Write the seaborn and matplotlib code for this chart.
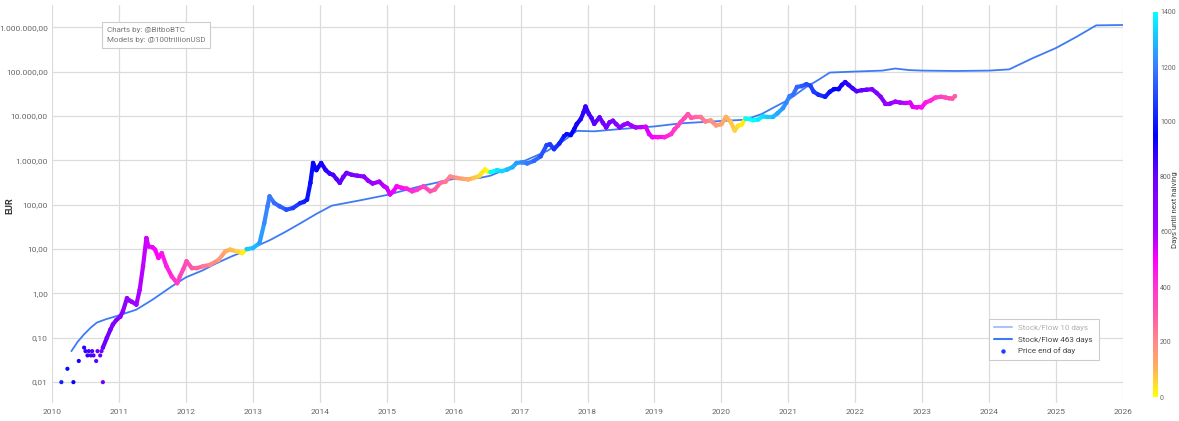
import numpy as np
import pandas as pd
import matplotlib
matplotlib.use("Agg")
import matplotlib.pyplot as plt
import seaborn as sns
from matplotlib.colors import LinearSegmentedColormap, Normalize
from matplotlib.collections import LineCollection
from matplotlib.ticker import FuncFormatter, FixedLocator
from matplotlib.lines import Line2D
import matplotlib.cm as cm

# ---------------- data ----------------
halving_dates = [2012.91, 2016.52, 2020.36, 2024.30]

early_t = [2010.14, 2010.23, 2010.32, 2010.40, 2010.48, 2010.50, 2010.53, 2010.55,
           2010.58, 2010.60, 2010.62, 2010.66, 2010.68, 2010.72, 2010.74, 2010.76]
early_p = [0.01, 0.02, 0.01, 0.03, 0.06, 0.05, 0.04, 0.05,
           0.04, 0.05, 0.04, 0.03, 0.05, 0.04, 0.05, 0.01]

price_t = [2010.76, 2010.82, 2010.87, 2010.91, 2010.96, 2011.02, 2011.06, 2011.12, 2011.15,
           2011.19, 2011.26, 2011.31, 2011.36, 2011.41, 2011.44, 2011.50, 2011.54, 2011.59,
           2011.64, 2011.71, 2011.79, 2011.87, 2011.91, 2011.96, 2012.01, 2012.09, 2012.16,
           2012.26, 2012.36, 2012.49, 2012.59, 2012.66, 2012.76, 2012.84, 2012.91, 2013.00,
           2013.10, 2013.17, 2013.22, 2013.25, 2013.32, 2013.40, 2013.50, 2013.60, 2013.71,
           2013.76, 2013.81, 2013.86, 2013.90, 2013.95, 2014.02, 2014.09, 2014.15, 2014.20,
           2014.25, 2014.30, 2014.35, 2014.40, 2014.48, 2014.56, 2014.66, 2014.72, 2014.79,
           2014.89, 2014.96, 2015.00, 2015.05, 2015.10, 2015.15, 2015.22, 2015.30, 2015.38,
           2015.45, 2015.55, 2015.65, 2015.72, 2015.80, 2015.88, 2015.95, 2016.05, 2016.15,
           2016.22, 2016.30, 2016.38, 2016.42, 2016.47, 2016.51, 2016.55, 2016.65, 2016.72,
           2016.80, 2016.88, 2016.94, 2017.02, 2017.10, 2017.20, 2017.30, 2017.39, 2017.44,
           2017.50, 2017.58, 2017.65, 2017.69, 2017.75, 2017.80, 2017.84, 2017.90, 2017.94,
           2017.97, 2018.02, 2018.06, 2018.10, 2018.18, 2018.23, 2018.28, 2018.33, 2018.38,
           2018.43, 2018.48, 2018.54, 2018.60, 2018.66, 2018.72, 2018.80, 2018.87, 2018.92,
           2018.97, 2019.05, 2019.15, 2019.25, 2019.30, 2019.35, 2019.39, 2019.45, 2019.50,
           2019.55, 2019.62, 2019.69, 2019.76, 2019.84, 2019.92, 2020.00, 2020.07, 2020.14,
           2020.20, 2020.25, 2020.30, 2020.36, 2020.42, 2020.47, 2020.55, 2020.62, 2020.68,
           2020.77, 2020.84, 2020.92, 2020.97, 2021.02, 2021.07, 2021.13, 2021.20, 2021.27,
           2021.33, 2021.38, 2021.45, 2021.55, 2021.62, 2021.68, 2021.75, 2021.80, 2021.85,
           2021.90, 2021.96, 2022.02, 2022.10, 2022.17, 2022.25, 2022.32, 2022.38, 2022.45,
           2022.52, 2022.60, 2022.67, 2022.75, 2022.82, 2022.86, 2022.92, 2022.99, 2023.05,
           2023.12, 2023.20, 2023.28, 2023.35, 2023.40, 2023.45, 2023.49]
price_v = [0.06, 0.10, 0.15, 0.20, 0.25, 0.30, 0.40, 0.78, 0.70,
           0.65, 0.56, 1.2, 4.1, 17.7, 11.5, 11.0, 9.7, 6.3,
           8.1, 4.1, 2.4, 1.7, 2.4, 3.5, 5.3, 3.7, 3.7,
           4.1, 4.4, 5.7, 8.9, 9.7, 8.9, 8.1, 10.0, 10.5,
           13.6, 38, 92, 154, 109, 92, 77, 84, 109,
           115, 130, 310, 870, 600, 870, 600, 500, 470,
           380, 310, 420, 520, 470, 450, 430, 350, 300,
           330, 260, 240, 170, 200, 260, 240, 230, 200,
           215, 260, 200, 220, 310, 330, 430, 400, 380,
           370, 400, 440, 520, 620, 560, 540, 600, 570,
           620, 700, 870, 900, 850, 970, 1230, 2200, 2300,
           1780, 2400, 3500, 3900, 3700, 5000, 6600, 8500, 12000,
           16300, 11100, 9000, 6600, 9300, 7000, 5500, 7200, 7800,
           6500, 5500, 6300, 6800, 6000, 5500, 5600, 5700, 3900,
           3300, 3300, 3300, 3900, 5000, 6000, 7200, 9000, 11000,
           9000, 9500, 9500, 7500, 7900, 6100, 6500, 9500, 7300,
           4700, 6000, 6300, 8700, 8500, 8000, 8300, 9800, 9500,
           9500, 11500, 15000, 20000, 28000, 30000, 45000, 47000, 52000,
           48000, 35000, 30000, 27000, 35000, 40000, 40000, 50000, 58000,
           50000, 42000, 36000, 38000, 39000, 40000, 33000, 27000, 19000,
           19000, 21000, 20000, 19500, 20000, 16000, 15500, 15500, 20000,
           22000, 26000, 27000, 26000, 25000, 24500, 28000]

s2f_t = [2010.29, 2010.38, 2010.48, 2010.58, 2010.67, 2010.80, 2010.97, 2011.26, 2011.50,
         2011.79, 2012.00, 2012.25, 2012.46, 2012.70, 2012.96, 2013.26, 2013.50, 2013.71,
         2013.95, 2014.18, 2014.60, 2015.00, 2015.50, 2016.00, 2016.39, 2016.55, 2016.75,
         2017.00, 2017.40, 2017.65, 2017.84, 2018.10, 2018.49, 2019.00, 2019.39, 2020.00,
         2020.35, 2020.60, 2020.80, 2021.00, 2021.27, 2021.45, 2021.62, 2022.00, 2022.40,
         2022.60, 2022.80, 2023.00, 2023.50, 2024.00, 2024.30, 2024.65, 2025.00, 2025.30,
         2025.60, 2026.00]
s2f_v = [0.05, 0.08, 0.12, 0.17, 0.22, 0.26, 0.31, 0.43, 0.72,
         1.44, 2.3, 3.3, 4.8, 7.0, 10.0, 16, 25, 38,
         62, 95, 125, 165, 260, 380, 400, 450, 600,
         890, 1630, 2800, 4600, 4500, 5060, 5800, 6800, 7700,
         8200, 11000, 16000, 23000, 45000, 65000, 95000, 100000, 105000,
         117000, 108000, 105000, 103000, 105000, 112000, 200000, 340000, 600000,
         1100000, 1120000]

y_ticks = [0.01, 0.1, 1, 10, 100, 1000, 10000, 100000, 1000000]
x_ticks = list(range(2010, 2027))
cbar_ticks = [0, 200, 400, 600, 800, 1000, 1200, 1400]


def days_until_halving(t):
    for h in halving_dates:
        if t < h:
            return (h - t) * 365.25
    return 0.0


# ---------------- styling ----------------
sns.set_theme(style="whitegrid")
plt.rcParams["font.family"] = ["Roboto", "DejaVu Sans"]
NARROW = ["Liberation Sans Narrow", "DejaVu Sans Condensed", "Roboto", "DejaVu Sans"]

cmap = LinearSegmentedColormap.from_list(
    "halving",
    [(0.0, "#ffff00"), (100 / 1400, "#ffb35a"), (200 / 1400, "#ff8a8a"),
     (300 / 1400, "#ff5aa8"), (400 / 1400, "#ff35d0"), (500 / 1400, "#ff00ff"),
     (600 / 1400, "#a500ff"), (800 / 1400, "#6a00ff"), (950 / 1400, "#0000ff"),
     (1200 / 1400, "#3a7aff"), (1.0, "#00ffff")])
norm = Normalize(0, 1400)

fig = plt.figure(figsize=(11.79, 4.21), dpi=100)
ax = fig.add_axes([52 / 1179, 18 / 421, 1071 / 1179, 398 / 421])

# S2F 463 days model line
df_s2f = pd.DataFrame({"t": s2f_t, "v": s2f_v})
sns.lineplot(data=df_s2f, x="t", y="v", ax=ax, color="#3f7af5", linewidth=1.3,
             zorder=3, legend=False)

# price, colored by days until next halving
df_p = pd.DataFrame({"t": price_t, "v": price_v})
df_p["days"] = [days_until_halving(t) for t in price_t]
df_e = pd.DataFrame({"t": early_t, "v": early_p})
df_e["days"] = [days_until_halving(t) for t in early_t]

pts = np.column_stack([df_p["t"].values, df_p["v"].values])
segs = np.stack([pts[:-1], pts[1:]], axis=1)
lc = LineCollection(segs, cmap=cmap, norm=norm, linewidth=3.0, zorder=4,
                    capstyle="round", joinstyle="round")
lc.set_array(df_p["days"].values[:-1])
ax.add_collection(lc)

sns.scatterplot(data=df_p, x="t", y="v", hue="days", palette=cmap, hue_norm=norm,
                ax=ax, s=10, linewidth=0, legend=False, zorder=5)
sns.scatterplot(data=df_e, x="t", y="v", hue="days", palette=cmap, hue_norm=norm,
                ax=ax, s=9, linewidth=0, legend=False, zorder=5)

ax.set_yscale("log")
ax.set_xlim(2010, 2026)
ax.set_ylim(10 ** -2.47, 10 ** 6.5)
ax.xaxis.set_major_locator(FixedLocator(x_ticks))
ax.yaxis.set_major_locator(FixedLocator(y_ticks))
ax.yaxis.set_minor_locator(FixedLocator([]))


def eur(v, pos):
    s = f"{v:,.2f}"
    return s.replace(",", "X").replace(".", ",").replace("X", ".")


ax.yaxis.set_major_formatter(FuncFormatter(eur))
ax.xaxis.set_major_formatter(FuncFormatter(lambda v, p: f"{int(round(v))}"))
ax.tick_params(axis="both", length=0, labelsize=6, labelcolor="#666666")
ax.tick_params(axis="x", pad=4)
ax.tick_params(axis="y", pad=3)
ax.grid(True, color="#dcdcdc", linewidth=0.9)
ax.set_facecolor("white")
for sp in ax.spines.values():
    sp.set_visible(False)
ax.set_xlabel("")
ax.set_ylabel("")
fig.text(10 / 1179, 1 - 206 / 421, "EUR", rotation=90, ha="center", va="center",
         fontsize=6.5, fontweight="bold", color="#333333")

# credit box
ax.text(0.051, 0.945, "Charts by: @BitboBTC\nModels by: @100trillionUSD",
        transform=ax.transAxes, fontsize=5.8, color="#777777", va="top", ha="left",
        linespacing=1.9,
        bbox=dict(boxstyle="square,pad=0.6", facecolor="white", edgecolor="#cccccc",
                  linewidth=0.8), zorder=10)

# legend
handles = [Line2D([0], [0], color="#a9c3ff", lw=1.5),
           Line2D([0], [0], color="#3f7af5", lw=1.5),
           Line2D([0], [0], color="#1f3cff", marker="o", markersize=2.2, lw=0)]
leg = ax.legend(handles, ["Stock/Flow 10 days", "Stock/Flow 463 days", "Price end of day"],
                loc="lower right", bbox_to_anchor=(0.981, 0.098), fontsize=5.8,
                frameon=True, fancybox=False, framealpha=1, edgecolor="#cccccc",
                handlelength=2.2, borderpad=0.7, labelspacing=0.6)
leg.get_frame().set_linewidth(0.8)
txts = leg.get_texts()
txts[0].set_color("#b0b0b0")
txts[1].set_color("#444444")
txts[2].set_color("#444444")
leg.set_zorder(10)

# colorbar
cax = fig.add_axes([1153 / 1179, 24 / 421, 5 / 1179, 385 / 421])
sm = cm.ScalarMappable(norm=norm, cmap=cmap)
cb = fig.colorbar(sm, cax=cax)
cb.outline.set_visible(False)
cb.set_ticks(cbar_ticks)
cb.ax.tick_params(length=0, labelsize=5, labelcolor="#666666", pad=1.5)
for lab in cb.ax.get_yticklabels():
    lab.set_family(NARROW)
fig.text(1175 / 1179, 1 - 210 / 421, "Days until next halving", rotation=90,
         ha="center", va="center", fontsize=5.6, color="#444444")

fig.savefig("out.png", dpi=100, facecolor="white")
